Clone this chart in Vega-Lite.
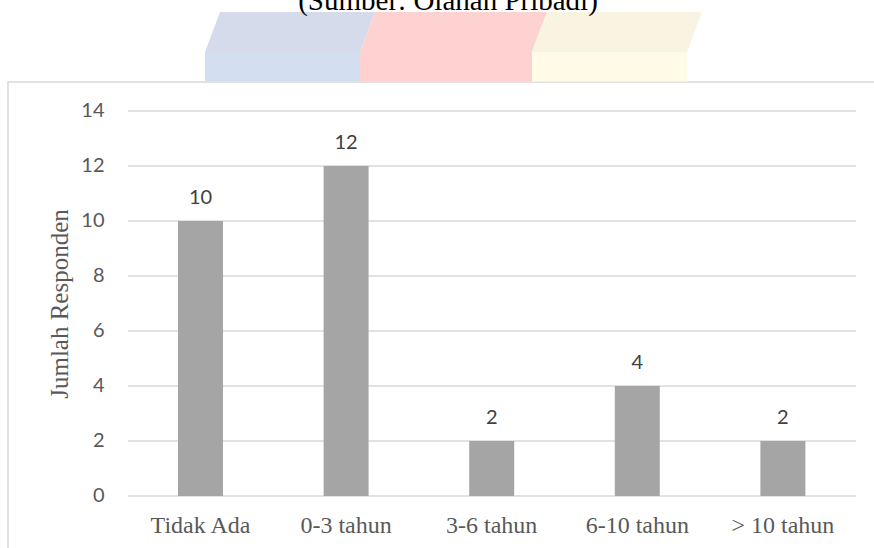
{
  "$schema": "https://vega.github.io/schema/vega-lite/v6.json",
  "width": 870,
  "height": 470,
  "autosize": {"type": "none"},
  "padding": {"left": 8, "top": 82, "right": -4, "bottom": -4},
  "background": "white",
  "config": {
    "view": {"stroke": "#d9d9d9", "strokeWidth": 1.5}
  },
  "title": {
    "text": "(Sumber: Olahan Pribadi)",
    "font": "Liberation Serif",
    "fontSize": 29,
    "fontWeight": "normal",
    "color": "#000000",
    "anchor": "middle",
    "frame": "group",
    "baseline": "alphabetic",
    "offset": 0,
    "dx": 5,
    "dy": 27
  },
  "datasets": {
    "responden": [
      {"masa": "Tidak Ada", "jumlah": 10},
      {"masa": "0-3 tahun", "jumlah": 12},
      {"masa": "3-6 tahun", "jumlah": 2},
      {"masa": "6-10 tahun", "jumlah": 4},
      {"masa": "> 10 tahun", "jumlah": 2}
    ],
    "garis": [
      {"nilai": 0}, {"nilai": 2}, {"nilai": 4}, {"nilai": 6},
      {"nilai": 8}, {"nilai": 10}, {"nilai": 12}, {"nilai": 14}
    ],
    "muka": [
      {"bidang": "biru-depan", "u0": 0.1058, "u1": 0.3187, "v0": 16.1455, "v1": 15.075},
      {"bidang": "merah-depan", "u0": 0.3187, "u1": 0.5549, "v0": 16.1455, "v1": 15.075},
      {"bidang": "kuning-depan", "u0": 0.5549, "u1": 0.7679, "v0": 16.1455, "v1": 15.075}
    ],
    "atap": [
      {"bidang": "biru-atas", "u": 0.1058, "atas": 16.1455, "bawah": 16.1455},
      {"bidang": "biru-atas", "u": 0.1264, "atas": 17.6, "bawah": 16.1455},
      {"bidang": "biru-atas", "u": 0.3187, "atas": 17.6, "bawah": 16.1455},
      {"bidang": "biru-atas", "u": 0.3393, "atas": 17.6, "bawah": 17.6},
      {"bidang": "merah-atas", "u": 0.3187, "atas": 16.1455, "bawah": 16.1455},
      {"bidang": "merah-atas", "u": 0.3393, "atas": 17.6, "bawah": 16.1455},
      {"bidang": "merah-atas", "u": 0.5549, "atas": 17.6, "bawah": 16.1455},
      {"bidang": "merah-atas", "u": 0.5755, "atas": 17.6, "bawah": 17.6},
      {"bidang": "kuning-atas", "u": 0.5549, "atas": 16.1455, "bawah": 16.1455},
      {"bidang": "kuning-atas", "u": 0.5755, "atas": 17.6, "bawah": 16.1455},
      {"bidang": "kuning-atas", "u": 0.7679, "atas": 17.6, "bawah": 16.1455},
      {"bidang": "kuning-atas", "u": 0.7885, "atas": 17.6, "bawah": 17.6}
    ]
  },
  "layer": [
    {
      "layer": [
        {
          "data": {"name": "garis"},
          "mark": {"type": "rule", "color": "#d9d9d9", "strokeWidth": 1.3},
          "encoding": {
            "x": {"datum": 0, "type": "quantitative", "scale": {"domain": [-0.164835, 1.03022], "nice": false, "zero": false}, "axis": null},
            "x2": {"datum": 1},
            "y": {"field": "nilai", "type": "quantitative", "scale": {"domain": [-2.0364, 15.0545], "nice": false, "zero": false}, "axis": null}
          }
        },
        {
          "data": {"name": "muka"},
          "mark": {"type": "rect"},
          "encoding": {
            "x": {"field": "u0", "type": "quantitative", "scale": {"domain": [-0.164835, 1.03022], "nice": false, "zero": false}, "axis": null},
            "x2": {"field": "u1"},
            "y": {"field": "v0", "type": "quantitative", "scale": {"domain": [-2.0364, 15.0545], "nice": false, "zero": false}, "axis": null},
            "y2": {"field": "v1"},
            "color": {
              "field": "bidang", "type": "nominal", "legend": null,
              "scale": {
                "domain": ["biru-depan", "merah-depan", "kuning-depan", "biru-atas", "merah-atas", "kuning-atas"],
                "range": ["#d3def0", "#ffd1d1", "#fffbe7", "#d5dbea", "#ffd2d2", "#f9f4e2"]
              }
            }
          }
        },
        {
          "data": {"name": "atap"},
          "mark": {"type": "area", "interpolate": "linear"},
          "encoding": {
            "x": {"field": "u", "type": "quantitative", "scale": {"domain": [-0.164835, 1.03022], "nice": false, "zero": false}, "axis": null},
            "y": {"field": "atas", "type": "quantitative", "scale": {"domain": [-2.0364, 15.0545], "nice": false, "zero": false}, "axis": null},
            "y2": {"field": "bawah"},
            "color": {
              "field": "bidang", "type": "nominal", "legend": null,
              "scale": {
                "domain": ["biru-depan", "merah-depan", "kuning-depan", "biru-atas", "merah-atas", "kuning-atas"],
                "range": ["#d3def0", "#ffd1d1", "#fffbe7", "#d5dbea", "#ffd2d2", "#f9f4e2"]
              }
            }
          }
        }
      ]
    },
    {
      "data": {"name": "responden"},
      "encoding": {
        "x": {
          "field": "masa", "type": "nominal", "sort": null,
          "scale": {"paddingInner": 0.691, "paddingOuter": 0.83315, "align": 0.7007},
          "axis": {
            "title": null, "domain": false, "ticks": false, "offset": -56,
            "labelPadding": 36, "labelBaseline": "alphabetic", "labelAngle": 0,
            "labelFont": "Liberation Serif", "labelFontSize": 24, "labelColor": "#595959"
          }
        },
        "y": {
          "field": "jumlah", "type": "quantitative",
          "scale": {"domain": [-2.0364, 15.0545], "nice": false, "zero": false},
          "axis": {
            "title": "Jumlah Responden", "values": [0, 2, 4, 6, 8, 10, 12, 14],
            "grid": false, "domain": false, "ticks": false, "offset": -120, "labelPadding": 24,
            "labelFont": "Lato", "labelFontSize": 20, "labelColor": "#595959",
            "titleFont": "Liberation Serif", "titleFontSize": 25, "titleFontWeight": "normal",
            "titleColor": "#595959", "titleAngle": 270, "titleBaseline": "alphabetic",
            "titleX": -61, "titleY": 221.5
          }
        }
      },
      "layer": [
        {
          "mark": {"type": "bar", "color": "#a5a5a5"},
          "encoding": {"y2": {"datum": 0}}
        },
        {
          "mark": {"type": "text", "font": "Lato", "fontSize": 20, "color": "#404040", "baseline": "alphabetic", "dy": -17.4},
          "encoding": {"text": {"field": "jumlah", "type": "quantitative"}}
        }
      ]
    }
  ],
  "resolve": {"scale": {"x": "independent"}, "axis": {"y": "independent"}}
}
